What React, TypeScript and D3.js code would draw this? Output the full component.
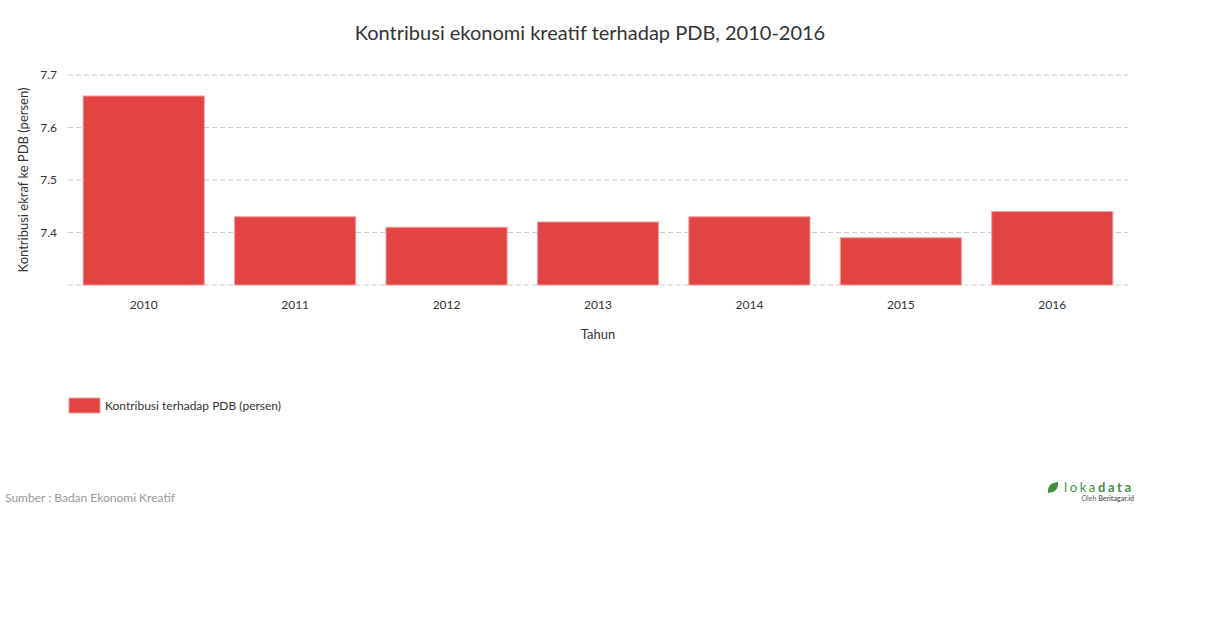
import React from "react";
import * as d3 from "d3";

const years = ["2010", "2011", "2012", "2013", "2014", "2015", "2016"];
const values = [7.66, 7.43, 7.41, 7.42, 7.43, 7.39, 7.44];
const yTicks = [7.3, 7.4, 7.5, 7.6, 7.7];
const yTickLabels = ["", "7.4", "7.5", "7.6", "7.7"];

const W = 1210;
const H = 628;
const left = 68;
const right = 1128;
const top = 75;
const bottom = 285;

export default function App() {
  const x = d3.scaleBand<string>().domain(years).range([left, right]).paddingInner(0.2).paddingOuter(0.1);
  const y = d3.scaleLinear().domain([7.3, 7.7]).range([bottom, top]);
  const font = "Lato, 'Open Sans', sans-serif";
  return (
    <svg width={W} height={H} style={{ position: "absolute", left: 0, top: 0, fontFamily: font }}>
      <rect width={W} height={H} fill="#fff" />
      <text x={590} y={40} textAnchor="middle" fontSize={20} fill="#333">
        Kontribusi ekonomi kreatif terhadap PDB, 2010-2016
      </text>
      {yTicks.map((t, i) => (
        <g key={t}>
          <line x1={left} x2={right} y1={y(t)} y2={y(t)} stroke="#ccc" strokeDasharray="5,3" />
          <text x={57} y={y(t) + 4} textAnchor="end" fontSize={12} fill="#333">
            {yTickLabels[i]}
          </text>
        </g>
      ))}
      {years.map((yr, i) => (
        <rect
          key={yr}
          x={x(yr)!}
          y={y(values[i])}
          width={x.bandwidth()}
          height={bottom - y(values[i])}
          fill="#e24343"
          stroke="#f0a0a0"
          strokeWidth={1}
        />
      ))}
      {years.map((yr) => (
        <text key={yr} x={x(yr)! + x.bandwidth() / 2} y={309} textAnchor="middle" fontSize={12} fill="#333">
          {yr}
        </text>
      ))}
      <text x={598} y={339} textAnchor="middle" fontSize={13} fill="#333">
        Tahun
      </text>
      <text
        transform={`translate(28,${180}) rotate(-90)`}
        textAnchor="middle"
        fontSize={13}
        fill="#333"
      >
        Kontribusi ekraf ke PDB (persen)
      </text>
      <rect x={69} y={398} width={31} height={15} fill="#e24343" stroke="#f0a0a0" />
      <text x={105} y={410} fontSize={12} fill="#333">
        Kontribusi terhadap PDB (persen)
      </text>
      <text x={5} y={502} fontSize={12} fill="#999">
        Sumber : Badan Ekonomi Kreatif
      </text>
      <g>
        <path d="M1048,493 Q1047,483 1058,482 Q1059,492 1048,493 Z" fill="#3f8f3f" />
        <text x={1064} y={492} fontSize={13} fill="#3f8f3f" letterSpacing={2.6}>
          loka<tspan fontWeight="bold">data</tspan>
        </text>
        <text x={1134} y={501} textAnchor="end" fontSize={7} fill="#666">
          Oleh <tspan fontWeight="bold">Beritagar.id</tspan>
        </text>
      </g>
    </svg>
  );
}
